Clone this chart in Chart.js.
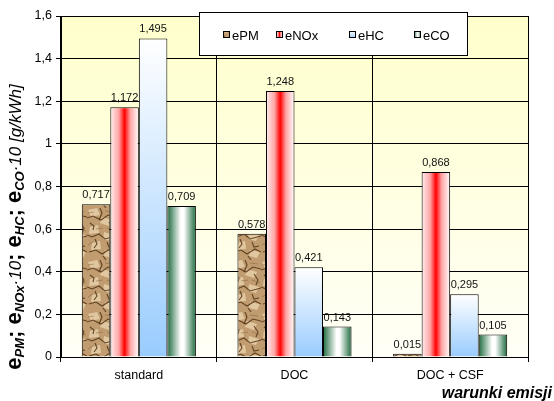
<!DOCTYPE html>
<html>
<head>
<meta charset="utf-8">
<script src="https://cdn.jsdelivr.net/npm/chart.js@4/dist/chart.umd.min.js"></script>
<style>
  html, body { margin: 0; padding: 0; background: #fff; }
  canvas { display: block; }
</style>
</head>
<body>
<canvas id="chart" width="554" height="401"></canvas>
<script>
// Emission test conditions and measured values
const categories = ['standard', 'DOC', 'DOC + CSF'];
const seriesNames = ['ePM', 'eNOx', 'eHC', 'eCO'];
const ePM  = [0.717, 0.578, 0.015];
const eNOx = [1.172, 1.248, 0.868];
const eHC  = [1.495, 0.421, 0.295];
const eCO  = [0.709, 0.143, 0.105];
const yAxisMax = 1.6;
const yAxisStep = 0.2;

const FONT = "Arial, 'Liberation Sans', sans-serif";
const comma = (s) => String(s).replace('.', ',');

// Crumpled kraft-paper tile used for the ePM bars
let paperTile = null;
function paperPattern(ctx) {
  if (!paperTile) {
    const t = document.createElement('canvas');
    t.width = 29; t.height = 52;
    const g = t.getContext('2d');
    g.fillStyle = '#c09c70';
    g.fillRect(0, 0, 29, 52);
    // light facets of the folds
    g.fillStyle = 'rgba(232,210,172,0.8)';
    const facets = [
      [[1, 2], [10, 0], [13, 7], [4, 9]],
      [[15, 9], [25, 12], [22, 18], [13, 15]],
      [[3, 19], [11, 17], [12, 25], [2, 26]],
      [[17, 24], [27, 27], [24, 33], [16, 31]],
      [[5, 35], [13, 33], [14, 41], [4, 42]],
      [[18, 42], [28, 44], [25, 50], [17, 48]]
    ];
    facets.forEach(f => {
      g.beginPath(); g.moveTo(f[0][0], f[0][1]);
      f.slice(1).forEach(p => g.lineTo(p[0], p[1]));
      g.closePath(); g.fill();
    });
    // dark crease lines
    g.strokeStyle = 'rgba(88,56,26,0.9)';
    g.lineWidth = 1.1;
    const creases = [
      [[0, 10], [6, 8], [14, 12], [21, 7], [29, 9]],
      [[0, 27], [5, 29], [12, 26], [18, 31], [29, 28]],
      [[2, 44], [9, 42], [15, 46], [23, 41], [29, 44]],
      [[13, 0], [15, 5], [12, 12]],
      [[22, 14], [26, 20], [24, 25]],
      [[8, 31], [10, 36], [7, 40]],
      [[20, 34], [22, 39], [27, 38]],
      [[3, 15], [7, 18], [6, 22]],
      [[16, 48], [19, 52]]
    ];
    creases.forEach(c => {
      g.beginPath(); g.moveTo(c[0][0], c[0][1]);
      c.slice(1).forEach(p => g.lineTo(p[0], p[1]));
      g.stroke();
    });
    g.strokeStyle = 'rgba(120,84,46,0.55)';
    g.lineWidth = 0.8;
    [[[1, 5], [7, 4]], [[18, 3], [26, 4]], [[9, 21], [16, 20]], [[1, 37], [6, 34]], [[20, 20], [28, 23]]].forEach(c => {
      g.beginPath(); g.moveTo(c[0][0], c[0][1]); g.lineTo(c[1][0], c[1][1]); g.stroke();
    });
    paperTile = t;
  }
  return ctx.createPattern(paperTile, 'repeat');
}

function barFill(ctx, idx, left, right, top, bottom) {
  if (idx === 0) return paperPattern(ctx);
  if (idx === 1) {
    const gr = ctx.createLinearGradient(left, 0, right, 0);
    gr.addColorStop(0, '#fff0f0');
    gr.addColorStop(0.3, '#ffa4a4');
    gr.addColorStop(0.5, '#ff0000');
    gr.addColorStop(0.7, '#ffa4a4');
    gr.addColorStop(1, '#ffffff');
    return gr;
  }
  if (idx === 2) {
    const gr = ctx.createLinearGradient(0, top, 0, bottom);
    gr.addColorStop(0, '#ffffff');
    gr.addColorStop(1, '#99ccff');
    return gr;
  }
  const gr = ctx.createLinearGradient(left, 0, right, 0);
  gr.addColorStop(0, '#1c6a3d');
  gr.addColorStop(0.47, '#ffffff');
  gr.addColorStop(0.58, '#ffffff');
  gr.addColorStop(1, '#1c6a3d');
  return gr;
}

// Plot area background
const plotBackground = {
  id: 'plotBackground',
  beforeDraw(chart) {
    const { ctx, chartArea: a } = chart;
    const gr = ctx.createLinearGradient(0, a.top, 0, a.bottom);
    gr.addColorStop(0, '#ffffcc');
    gr.addColorStop(1, '#fffff7');
    ctx.save();
    ctx.fillStyle = gr;
    ctx.fillRect(a.left, a.top, a.right - a.left, a.bottom - a.top);
    ctx.restore();
  }
};

// Per-bar fills that depend on bar geometry
const barFills = {
  id: 'barFills',
  beforeDatasetsDraw(chart) {
    const ctx = chart.ctx;
    chart.data.datasets.forEach((ds, i) => {
      chart.getDatasetMeta(i).data.forEach(el => {
        const p = el.getProps(['x', 'y', 'base', 'width'], true);
        const fill = barFill(ctx, i, p.x - p.width / 2, p.x + p.width / 2, Math.min(p.y, p.base), Math.max(p.y, p.base));
        if (Object.isFrozen(el.options)) {
          el.options = Object.assign({}, el.options, { backgroundColor: fill });
        } else {
          el.options.backgroundColor = fill;
        }
      });
    });
  }
};

// Value labels above bars
const valueLabels = {
  id: 'valueLabels',
  afterDatasetsDraw(chart) {
    const ctx = chart.ctx;
    ctx.save();
    ctx.font = '11px ' + FONT;
    ctx.fillStyle = '#111';
    ctx.textAlign = 'center';
    ctx.textBaseline = 'alphabetic';
    chart.data.datasets.forEach((ds, i) => {
      chart.getDatasetMeta(i).data.forEach((el, j) => {
        const v = ds.data[j];
        ctx.fillText(comma(v.toFixed(3)), el.x, el.y - 6);
      });
    });
    ctx.restore();
  }
};

// Legend box inside the plot
const legendBox = {
  id: 'legendBox',
  afterDraw(chart) {
    const ctx = chart.ctx;
    const bx = 199, by = 12, bw = 268, bh = 43;
    ctx.save();
    ctx.fillStyle = '#ffffff';
    ctx.fillRect(bx, by, bw, bh);
    ctx.strokeStyle = '#000';
    ctx.lineWidth = 1;
    ctx.strokeRect(bx + 0.5, by + 0.5, bw, bh);
    ctx.font = '13px ' + FONT;
    ctx.textBaseline = 'alphabetic';
    const markerX = [223, 276, 349, 414];
    seriesNames.forEach((name, i) => {
      const mx = markerX[i], my = 31, ms = 7;
      ctx.fillStyle = barFill(ctx, i, mx, mx + ms, my, my + ms);
      ctx.fillRect(mx, my, ms, ms);
      ctx.strokeStyle = '#000';
      ctx.strokeRect(mx + 0.5, my + 0.5, ms - 1, ms - 1);
      ctx.fillStyle = '#000';
      ctx.fillText(name, mx + 9, 40);
    });
    ctx.restore();
  }
};

// Axis titles with subscripts
const axisTitles = {
  id: 'axisTitles',
  afterDraw(chart) {
    const ctx = chart.ctx;
    ctx.save();
    ctx.fillStyle = '#000';
    ctx.font = 'bold italic 16px ' + FONT;
    ctx.textAlign = 'right';
    ctx.fillText('warunki emisji', 552, 398);

    const big = 'bold 22px ' + FONT;
    const sub = 'bold italic 13px ' + FONT;
    const unit = 'italic 17px ' + FONT;
    const segs = [
      ['e', big], ['PM', sub, 1], ['; ', big],
      ['e', big], ['NOx', sub, 1], ['\u00b710', unit], ['; ', big],
      ['e', big], ['HC', sub, 1], ['; ', big],
      ['e', big], ['CO', sub, 1], ['\u00b710', unit], [' [g/kWh]', unit]
    ];
    let total = 0;
    segs.forEach(s => { ctx.font = s[1]; s.w = ctx.measureText(s[0]).width; total += s.w; });
    ctx.translate(21, 227);
    ctx.rotate(-Math.PI / 2);
    ctx.textAlign = 'left';
    let x = -total / 2;
    segs.forEach(s => {
      ctx.font = s[1];
      ctx.fillText(s[0], x, s[2] ? 3 : 0);
      x += s.w;
    });
    ctx.restore();
  }
};

const colors = ['#c09c70', '#ff0000', '#99ccff', '#1c6a3d'];
const seriesValues = [ePM, eNOx, eHC, eCO];

new Chart(document.getElementById('chart'), {
  type: 'bar',
  data: {
    labels: categories,
    datasets: seriesNames.map((name, i) => ({
      label: name,
      data: seriesValues[i],
      backgroundColor: () => colors[i],
      borderColor: '#000',
      borderWidth: 1,
      barPercentage: 1,
      categoryPercentage: 0.733
    }))
  },
  options: {
    responsive: false,
    animation: false,
    devicePixelRatio: 1,
    layout: { padding: { left: 0, right: 26, top: 16, bottom: 0 } },
    plugins: {
      legend: { display: false },
      tooltip: { enabled: false }
    },
    scales: {
      x: {
        grid: { offset: true, color: '#000', lineWidth: 1, tickLength: 5, drawOnChartArea: true },
        border: { color: '#000', width: 1 },
        ticks: { color: '#000', font: { family: FONT, size: 12.5 }, padding: 6 },
        afterFit(scale) { scale.height = 44; }
      },
      y: {
        min: 0,
        max: yAxisMax,
        grid: { color: '#000', lineWidth: 1, tickLength: 5 },
        border: { color: '#000', width: 1 },
        ticks: {
          stepSize: yAxisStep,
          color: '#000',
          padding: 4,
          font: { family: FONT, size: 12.5 },
          callback: (v) => comma(Math.round(v * 10) / 10)
        },
        afterFit(scale) { scale.width = 61; }
      }
    }
  },
  plugins: [plotBackground, barFills, valueLabels, legendBox, axisTitles]
});
</script>
</body>
</html>
